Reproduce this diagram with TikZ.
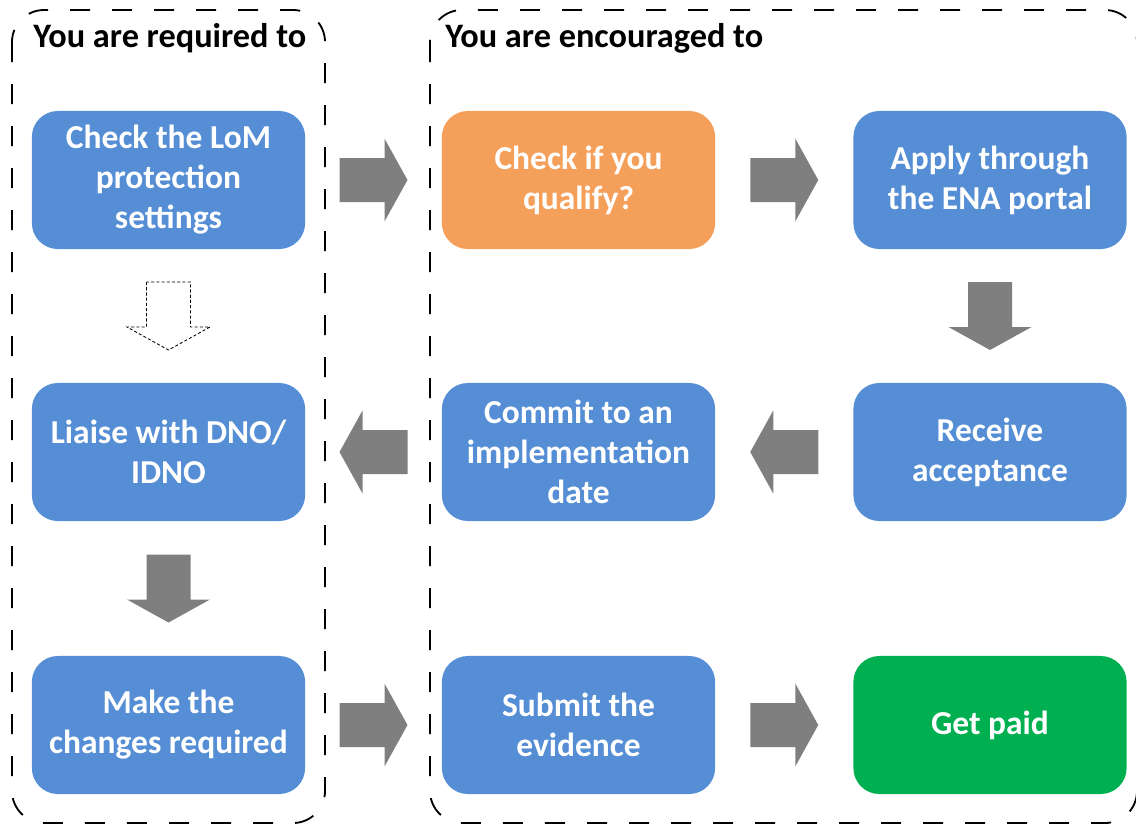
\documentclass[tikz,border=0pt]{standalone}
\usepackage{fontspec}
\setmainfont{Carlito}
\usetikzlibrary{calc}
\definecolor{boxblue}{RGB}{85,142,213}
\definecolor{boxorange}{RGB}{245,160,90}
\definecolor{boxgreen}{RGB}{0,176,80}
\definecolor{arrowgray}{RGB}{127,127,127}
\tikzset{
  stepbox/.style={rectangle, rounded corners=0.65cm, fill=boxblue, text=white,
    font=\bfseries\fontsize{23.8}{28.5}\selectfont, align=center,
    minimum width=6.83cm, minimum height=3.45cm, inner sep=0pt},
  headline/.style={anchor=base west, inner sep=0pt, font=\bfseries\fontsize{24.4}{28}\selectfont},
  grouping/.style={dash pattern=on 0.5cm off 0.55cm, line width=1.3pt, rounded corners=0.8cm},
  blockarrow/.pic={\path[pic actions] (-34,-22)--(11,-22)--(11,-41.5)--(34,0)--(11,41.5)--(11,22)--(-34,22)--cycle;},
  grayarrow/.style={fill=arrowgray},
  optarrow/.style={draw=black, fill=white, line width=0.6pt, dash pattern=on 2.2pt off 1.5pt}
}
\begin{document}
\begin{tikzpicture}[x=0.025cm, y=0.025cm]
\useasboundingbox (0,0) rectangle (1136,-824);
\clip (0,0) rectangle (1136,-824);
% the two groups
\draw[grouping] (12,-10) rectangle (325,-823);
\draw[grouping] (430,-10) rectangle (1137,-823);
\node (req) at (33,-47) [headline] {You are required to};
\node (enc) at (445,-47) [headline] {You are encouraged to};
% steps
\node (lom) at (168.5,-180) [stepbox] {Check the LoM\\protection\\settings};
\node (dno) at (168.5,-452) [stepbox] {Liaise with DNO/\\IDNO};
\node (chg) at (168.5,-725) [stepbox] {Make the\\changes required};
\node (qual) at (578.5,-180) [stepbox, fill=boxorange] {Check if you\\qualify?};
\node (date) at (578.5,-452) [stepbox] {Commit to an\\implementation\\date};
\node (evid) at (578.5,-725) [stepbox] {Submit the\\evidence};
\node (ena) at (990,-180) [stepbox] {Apply through\\the ENA portal};
\node (acc) at (990,-452) [stepbox] {Receive\\acceptance};
\node (paid) at (990,-725) [stepbox, fill=boxgreen] {Get paid};
% arrows
\pic[grayarrow] at ($(lom.east)!0.5!(qual.west)$) {blockarrow};
\pic[grayarrow] at ($(qual.east)!0.5!(ena.west)$) {blockarrow};
\pic[grayarrow, rotate=-90] at ($(ena.south)!0.5!(acc.north)$) {blockarrow};
\pic[grayarrow, rotate=180] at ($(acc.west)!0.5!(date.east)$) {blockarrow};
\pic[grayarrow, rotate=180] at ($(date.west)!0.5!(dno.east)$) {blockarrow};
\pic[optarrow, rotate=-90] at ($(lom.south)!0.5!(dno.north)$) {blockarrow};
\pic[grayarrow, rotate=-90] at ($(dno.south)!0.5!(chg.north)$) {blockarrow};
\pic[grayarrow] at ($(chg.east)!0.5!(evid.west)$) {blockarrow};
\pic[grayarrow] at ($(evid.east)!0.5!(paid.west)$) {blockarrow};
\end{tikzpicture}
\end{document}
